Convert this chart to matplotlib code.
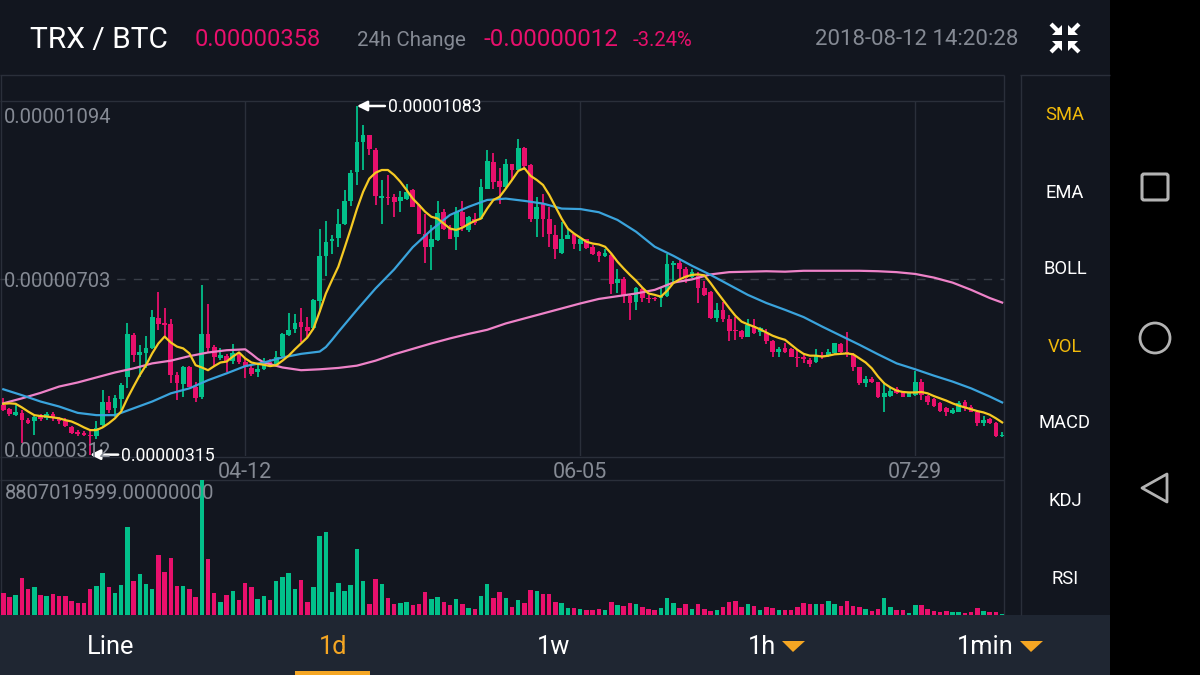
import matplotlib
matplotlib.use("Agg")
import matplotlib.pyplot as plt
from matplotlib.patches import Rectangle, Circle, Polygon, FancyBboxPatch

# prices are in satoshi (1e-8 BTC), volumes in millions
opens = [424, 415, 402, 407, 391, 390, 400, 395, 405, 393, 388, 375, 365, 363, 359, 355, 380, 430, 417, 437,
         487, 579, 534, 538, 549, 615, 604, 603, 490, 471, 507, 463, 441, 580, 553, 527, 532, 522, 534, 520,
         505, 496, 504, 520, 515, 532, 579, 591, 608, 597, 593, 654, 752, 786, 793, 823, 874, 938, 1003, 1020,
         987, 881, 883, 882, 874, 879, 898, 865, 802, 772, 788, 850, 811, 794, 850, 810, 835, 835, 901, 960,
         918, 904, 955, 943, 991, 953, 835, 868, 835, 799, 760, 791, 801, 780, 790, 772, 762, 753, 755, 694,
         703, 664, 652, 680, 661, 660, 659, 664, 733, 737, 723, 707, 709, 683, 674, 615, 634, 614, 590, 588,
         575, 599, 586, 582, 566, 542, 549, 547, 530, 530, 524, 518, 535, 533, 538, 559, 540, 535, 508, 472,
         481, 474, 442, 444, 460, 452, 443, 447, 474, 444, 438, 428, 417, 406, 410, 432, 421, 410, 384, 393,
         384, 355]
highs = [439, 417, 424, 413, 396, 400, 405, 410, 408, 397, 395, 377, 369, 368, 368, 388, 457, 444, 446, 472,
         606, 584, 556, 576, 634, 674, 637, 613, 498, 510, 510, 474, 689, 647, 556, 549, 537, 558, 542, 527,
         512, 512, 527, 525, 543, 584, 628, 625, 639, 619, 658, 813, 830, 799, 857, 899, 943, 1083, 1042, 1020,
         990, 921, 931, 889, 896, 912, 900, 868, 845, 821, 874, 855, 821, 860, 874, 841, 848, 923, 986, 980,
         946, 966, 955, 1010, 993, 955, 882, 889, 860, 821, 828, 813, 804, 795, 791, 777, 764, 769, 758, 725,
         707, 669, 685, 685, 667, 663, 681, 758, 742, 746, 729, 723, 718, 698, 676, 649, 652, 623, 618, 590,
         614, 614, 596, 591, 568, 552, 562, 549, 547, 538, 527, 547, 540, 547, 562, 560, 585, 538, 509, 489,
         485, 476, 476, 465, 465, 454, 454, 500, 481, 447, 439, 431, 420, 417, 434, 436, 425, 412, 401, 395,
         386, 364]
lows = [412, 400, 400, 340, 382, 358, 390, 391, 390, 383, 375, 360, 356, 355, 315, 350, 375, 407, 399, 413,
        461, 520, 487, 505, 547, 590, 575, 472, 435, 443, 463, 432, 437, 540, 509, 523, 496, 515, 515, 483,
        489, 487, 501, 507, 512, 531, 576, 582, 564, 575, 590, 630, 709, 756, 772, 821, 863, 909, 942, 975,
        865, 824, 865, 839, 850, 876, 860, 801, 738, 722, 786, 810, 789, 766, 808, 806, 821, 833, 900, 901,
        868, 901, 921, 942, 942, 827, 794, 795, 772, 747, 758, 789, 767, 764, 769, 755, 740, 751, 669, 670,
        648, 612, 634, 652, 650, 654, 641, 663, 694, 704, 693, 704, 649, 665, 614, 607, 607, 566, 568, 570,
        574, 581, 577, 559, 530, 531, 538, 530, 509, 516, 509, 516, 525, 531, 537, 538, 531, 500, 469, 465,
        472, 439, 410, 443, 449, 442, 441, 445, 436, 425, 421, 409, 401, 404, 409, 412, 408, 377, 378, 382,
        353, 354]
closes = [413, 404, 410, 391, 385, 399, 393, 405, 397, 390, 377, 363, 361, 359, 356, 373, 430, 413, 439, 468,
          580, 534, 540, 551, 619, 603, 600, 490, 472, 507, 465, 439, 581, 551, 531, 534, 522, 538, 518, 509,
          493, 503, 515, 512, 531, 580, 590, 604, 597, 588, 656, 753, 784, 791, 823, 874, 936, 1003, 1020, 988,
          885, 885, 881, 872, 883, 894, 861, 802, 772, 789, 848, 811, 791, 850, 819, 839, 826, 904, 962, 916,
          904, 955, 942, 990, 951, 835, 861, 835, 801, 769, 791, 799, 779, 790, 771, 758, 753, 760, 691, 703,
          667, 650, 681, 661, 657, 657, 664, 736, 738, 723, 704, 718, 682, 667, 615, 634, 613, 588, 588, 575,
          601, 582, 593, 566, 541, 548, 542, 531, 527, 525, 515, 535, 530, 542, 560, 540, 537, 508, 472, 481,
          474, 441, 450, 456, 450, 443, 450, 474, 447, 432, 423, 412, 409, 414, 428, 421, 410, 384, 392, 384,
          355, 358]
volumes = [1414, 1175, 1306, 2394, 1676, 1806, 1306, 1262, 1371, 1262, 1240, 936, 762, 762, 1697, 1915, 2720, 1850,
           1436, 1958, 5723, 2241, 2676, 2002, 1676, 3917, 2807, 3699, 1915, 1915, 1676, 1153, 8807, 3634, 1414, 870,
           1306, 1588, 979, 2067, 1850, 1044, 1240, 979, 2220, 2481, 2720, 1719, 2285, 849, 1850, 5179, 5440, 1523,
           2111, 1567, 1958, 4287, 2241, 718, 2328, 2024, 1132, 696, 762, 870, 653, 696, 1480, 1044, 1197, 870,
           653, 1044, 696, 435, 370, 1262, 2002, 1088, 1480, 1088, 544, 979, 805, 1632, 1588, 1371, 1349, 849,
           805, 479, 435, 392, 326, 326, 370, 326, 870, 653, 588, 762, 718, 522, 370, 326, 435, 1132, 762, 479,
           718, 413, 696, 370, 283, 326, 544, 827, 936, 500, 740, 588, 305, 522, 457, 326, 305, 326, 522, 783,
           696, 696, 718, 936, 740, 588, 936, 609, 544, 370, 261, 392, 1132, 522, 326, 305, 152, 653, 653, 392,
           239, 218, 283, 218, 218, 152, 218, 457, 283, 218, 218, 65]

# short average has a value for each candle
ma7 = [427, 428, 427, 419, 410, 402, 400, 399, 397, 395, 391, 388, 382, 375, 369, 369, 375, 384, 395, 410,
       439, 465, 490, 512, 538, 560, 575, 562, 553, 549, 538, 512, 507, 501, 510, 518, 520, 531, 540, 527,
       518, 515, 513, 510, 512, 522, 533, 547, 560, 573, 593, 630, 670, 700, 729, 770, 812, 856, 894, 923,
       936, 942, 942, 931, 916, 898, 879, 865, 850, 839, 835, 824, 813, 810, 815, 823, 830, 835, 857, 876,
       883, 901, 920, 940, 946, 929, 920, 909, 887, 861, 835, 813, 802, 793, 784, 780, 778, 773, 758, 740,
       725, 711, 698, 683, 670, 667, 663, 676, 693, 701, 707, 711, 712, 710, 693, 674, 656, 638, 621, 608,
       602, 597, 591, 584, 577, 572, 568, 557, 546, 537, 533, 533, 531, 533, 536, 537, 538, 536, 527, 518,
       505, 487, 472, 463, 456, 453, 452, 452, 453, 450, 444, 439, 434, 428, 423, 419, 415, 411, 408, 403,
       395, 386]
# the two long ones were read about every third candle, closer at the bends
ma25_index = [0, 3, 6, 9, 12, 15, 18, 21, 24, 27, 30, 33, 36, 39, 42, 45, 48, 51, 52, 53, 54, 57, 60, 63, 66, 69,
              72, 75, 78, 81, 84, 87, 90, 93, 96, 99, 102, 105, 108, 111, 114, 117, 120, 123, 126, 129, 132, 135,
              138, 141, 144, 147, 150, 153, 156, 159, 161]
ma25 = [459, 446, 432, 421, 407, 402, 402, 417, 432, 450, 461, 479, 494, 510, 518, 529, 537, 542, 552, 568, 585,
        634, 681, 723, 772, 810, 843, 861, 876, 879, 874, 868, 857, 856, 849, 832, 806, 773, 753, 731, 711, 689,
        667, 649, 634, 618, 597, 577, 557, 536, 516, 503, 489, 476, 461, 443, 430]
ma99_index = [0, 3, 6, 9, 12, 15, 18, 21, 24, 27, 30, 33, 36, 39, 40, 41, 42, 45, 48, 51, 54, 57, 60, 63, 66, 69,
              72, 75, 78, 81, 84, 87, 90, 93, 96, 99, 102, 105, 108, 111, 114, 117, 120, 123, 126, 129, 132, 135,
              138, 141, 144, 147, 150, 153, 156, 159, 161]
ma99 = [428, 439, 451, 465, 474, 485, 496, 505, 516, 522, 532, 540, 545, 547, 537, 526, 518, 507, 501, 503, 506,
        511, 522, 536, 548, 560, 571, 581, 590, 604, 615, 626, 637, 648, 658, 664, 670, 678, 694, 701, 712, 717,
        718, 719, 718, 720, 720, 720, 720, 719, 717, 713, 705, 694, 678, 660, 650]

date_index = [39, 93, 147]
date_labels = ["04-12", "06-05", "07-29"]
price_ticks = ["0.00001094", "0.00000703", "0.00000312"]
side_menu = ["SMA", "EMA", "BOLL", "VOL", "MACD", "KDJ", "RSI"]
side_active = ["SMA", "VOL"]
bottom_menu = ["Line", "1d", "1w", "1h", "1min"]

PX_W, PX_H = 1200, 675
BG = "#12161f"
BAR_BG = "#1f2632"
LINE = "#2a2f3a"
GREEN = "#02c08a"
PINK = "#e8106c"
GOLD = "#f0b90b"
ORANGE = "#f5a623"
GRAY = "#858a94"
FONT = "Roboto"


def panel_axes(fig, left, top, right, bottom):
    """axes placed by screen pixels, y counted from the top"""
    ax = fig.add_axes([left / PX_W, 1 - bottom / PX_H,
                       (right - left) / PX_W, (bottom - top) / PX_H])
    ax.patch.set_alpha(0)
    for side in ax.spines.values():
        side.set_visible(False)
    return ax


def label(x, y, s, size, color="white", ha="left", **kw):
    # roboto sits a bit high with va=center, so nudge it down
    fig.text(x / PX_W, 1 - (y + 1.5) / PX_H, s, fontsize=size, color=color, ha=ha,
             va="center", family=FONT, **kw)


fig = plt.figure(figsize=(PX_W / 100, PX_H / 100), dpi=100, facecolor=BG)

# screen chrome, drawn in pixel coords on a full size axes
bg = fig.add_axes([0, 0, 1, 1])
bg.set_xlim(0, PX_W)
bg.set_ylim(PX_H, 0)
bg.axis("off")
bg.add_patch(Rectangle((1110, 0), 90, PX_H, color="black", lw=0))
bg.add_patch(Rectangle((0, 615), 1110, 60, color=BAR_BG, lw=0))
bg.add_patch(Rectangle((295, 671), 75, 4, color=ORANGE, lw=0))
for xs, ys in [((0, 1004), (75, 75)), ((0, 1004), (101, 101)), ((0, 1004), (456.5, 456.5)),
               ((0, 1004), (480, 480)), ((1004, 1004), (75, 615)), ((0.5, 0.5), (75, 615)),
               ((1020.5, 1020.5), (75, 615)), ((1020, 1110), (75, 75))]:
    bg.plot(xs, ys, color=LINE, lw=1, solid_capstyle="butt")

# compress icon in the corner
for sx, sy in [(-1, -1), (1, -1), (-1, 1), (1, 1)]:
    cx, cy = 1065 + sx * 3, 38 + sy * 3
    bg.add_patch(Polygon([(cx, cy), (cx + sx * 10, cy), (cx, cy + sy * 10)], color="white", lw=0))
    bg.plot([cx + sx * 4, cx + sx * 11], [cy + sy * 4, cy + sy * 11], color="white", lw=3,
            solid_capstyle="butt")

# android nav buttons
bg.add_patch(FancyBboxPatch((1142, 174), 26, 26, boxstyle="round,pad=0,rounding_size=2",
                            fill=False, ec="#b3b3b3", lw=2.2))
bg.add_patch(Circle((1155, 338), 15, fill=False, ec="#b3b3b3", lw=2.0))
bg.add_patch(Polygon([(1167, 474), (1167, 502), (1142, 488)], closed=True, fill=False,
                     ec="#b3b3b3", lw=2.0, joinstyle="round"))
bg.add_patch(Polygon([(782, 641), (805, 641), (793, 652)], color=ORANGE, lw=0))
bg.add_patch(Polygon([(1020, 641), (1043, 641), (1031, 652)], color=ORANGE, lw=0))

# candles
idx = list(range(len(opens)))
colors = [GREEN if c >= o else PINK for o, c in zip(opens, closes)]

ax = panel_axes(fig, 0, 101, 1004, 456)
ax.set_xlim(-0.53, 161.3)
ax.set_ylim(312, 1094)
ax.axhline(703, color="#3a3f49", lw=1, ls=(0, (6, 6)), zorder=1)
ax.set_xticks(date_index, date_labels, fontsize=15.5, color=GRAY, family=FONT)
ax.set_yticks([])
ax.tick_params(axis="x", length=0, pad=4)
ax.grid(axis="x", color=LINE, lw=1, zorder=1)
ax.set_axisbelow(True)
ax.vlines(idx, lows, highs, colors=colors, lw=1.3, zorder=2)
ax.bar(idx, [abs(c - o) for o, c in zip(opens, closes)], bottom=[min(o, c) for o, c in zip(opens, closes)],
       width=0.76, color=colors, lw=0, zorder=3)

ax.plot(ma99_index, ma99, color="#ee82c8", lw=1.6, zorder=4)
ax.plot(ma25_index, ma25, color="#3aa3dc", lw=1.6, zorder=4)
ax.plot(idx, ma7, color="#f5c923", lw=1.6, zorder=5)

# arrows on the highest and lowest prints
top_i = highs.index(max(highs))
low_i = lows.index(min(lows))
for i, p, txt in [(top_i, highs[top_i], "0.00001083"), (low_i, lows[low_i], "0.00000315")]:
    ax.annotate("", xy=(i, p), xytext=(28, 0), textcoords="offset pixels", annotation_clip=False,
                arrowprops=dict(arrowstyle="-|>", color="white", lw=1.8, mutation_scale=15,
                                shrinkA=0, shrinkB=0), zorder=7)
    ax.annotate(txt, xy=(i, p), xytext=(31, -1), textcoords="offset pixels", annotation_clip=False,
                color="white", fontsize=12.7, va="center", family=FONT, zorder=7)

# volume panel
vol = panel_axes(fig, 0, 480, 1004, 615)
vol.set_xlim(-0.53, 161.3)
vol.set_ylim(0, max(volumes))
vol.set_xticks([])
vol.set_yticks([])
vol.bar(idx, volumes, width=0.72, color=colors, lw=0)

# text on top of everything
label(4, 116, price_ticks[0], 14.5, GRAY)
label(4, 280, price_ticks[1], 14.5, GRAY)
label(4, 450, price_ticks[2], 14.5, GRAY)
label(5, 492, "8807019599.00000000", 14.5, GRAY)

label(30, 38, "TRX / BTC", 21.5, "white")
label(195, 38, "0.00000358", 17, PINK)
label(357, 39, "24h Change", 14.8, GRAY)
label(483, 38, "-0.00000012", 17.4, PINK)
label(633, 39, "-3.24%", 14.6, PINK)
label(1018, 38, "2018-08-12 14:20:28", 16, GRAY, ha="right")

for n, name in enumerate(side_menu):
    label(1065, [114, 191, 268, 345, 422, 499, 577][n], name, 13.2,
          GOLD if name in side_active else "white", ha="center")

for name, x, c in zip(bottom_menu, [111, 333, 554, 762, 985], ["white", ORANGE, "white", "white", "white"]):
    label(x, 646, name, 18.3, c, ha="center")

fig.savefig("out.png", dpi=100, facecolor=BG)
